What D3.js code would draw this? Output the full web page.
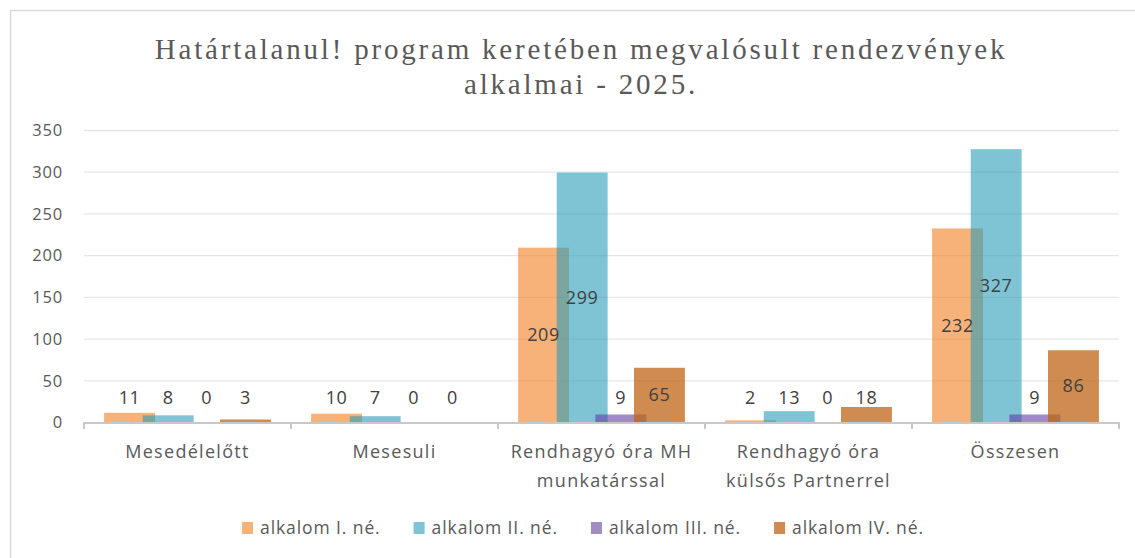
<!DOCTYPE html>
<html>
<head>
<meta charset="utf-8">
<script src="https://cdn.jsdelivr.net/npm/d3@7"></script>
<style>
  html, body { margin: 0; padding: 0; background: #fff; }
  svg { display: block; }
</style>
</head>
<body>
<svg id="chart" width="1135" height="558"></svg>
<script>
// ---- data ----
const titleLines = ["Határtalanul! program keretében megvalósult rendezvények", "alkalmai - 2025."];
const categories = [
  ["Mesedélelőtt"],
  ["Mesesuli"],
  ["Rendhagyó óra MH", "munkatárssal"],
  ["Rendhagyó óra", "külsős Partnerrel"],
  ["Összesen"]
];
const seriesNames = ["alkalom I. né.", "alkalom II. né.", "alkalom III. né.", "alkalom IV. né."];
const seriesI   = [11, 10, 209, 2, 232];
const seriesII  = [8, 7, 299, 13, 327];
const seriesIII = [0, 0, 9, 0, 9];
const seriesIV  = [3, 0, 65, 18, 86];
const yTicks = [0, 50, 100, 150, 200, 250, 300, 350];

const seriesValues = [seriesI, seriesII, seriesIII, seriesIV];
const seriesColors = ["rgb(242,127,33)", "rgb(40,157,183)", "rgb(97,63,155)", "rgb(191,100,21)"];
const seriesOpacity = [0.6, 0.6, 0.6, 0.75];
const legendColors = ["rgb(247,178,122)", "rgb(126,196,212)", "rgb(160,140,195)", "rgb(207,139,80)"];

const svg = d3.select("#chart");
const font = "'Open Sans', sans-serif";

// outer border
svg.append("rect").attr("x", 10.5).attr("y", 10.5).attr("width", 1200).attr("height", 600)
  .attr("fill", "none").attr("stroke", "#d9d9d9").attr("stroke-width", 1.5);

// title
const title = svg.append("text").attr("x", 581).attr("y", 60).attr("text-anchor", "middle")
  .attr("font-family", "'Liberation Serif', serif").attr("font-size", 29).attr("fill", "#595959")
  .attr("letter-spacing", 2.8);
titleLines.forEach((t, i) => {
  title.append("tspan").attr("x", 581).attr("y", 59 + i * 35).text(t);
});

// scales
const plotLeft = 84, plotRight = 1119, plotTop = 130, plotBottom = 422;
const x = d3.scaleBand().domain(d3.range(categories.length)).range([plotLeft, plotRight]).paddingInner(0).paddingOuter(0);
const y = d3.scaleLinear().domain([0, 350]).range([plotBottom, plotTop]);
const bw = x.bandwidth();
const barW = bw * 0.246;
const xs = d3.scalePoint().domain(d3.range(seriesNames.length)).range([bw * 0.097, bw * 0.903 - barW]);

// gridlines
svg.append("g").selectAll("line").data(yTicks.filter(t => t > 0)).join("line")
  .attr("x1", plotLeft).attr("x2", plotRight)
  .attr("y1", d => y(d) + 0.5).attr("y2", d => y(d) + 0.5)
  .attr("stroke", "#e6e6e6").attr("stroke-width", 1.3);

// y axis labels
const yAxis = d3.axisLeft(y).tickValues(yTicks).tickSize(0).tickPadding(0);
const gy = svg.append("g").attr("transform", "translate(63,0)").call(yAxis);
gy.select(".domain").remove();
gy.selectAll("text").attr("font-family", font).attr("font-size", 16.5).attr("fill", "#595959")
  .attr("letter-spacing", 0.8).attr("dy", "0.35em");

// bars
seriesValues.forEach((vals, si) => {
  svg.append("g").selectAll("rect").data(vals).join("rect")
    .attr("x", (d, ci) => x(ci) + xs(si))
    .attr("y", d => y(d))
    .attr("width", barW)
    .attr("height", d => y(0) - y(d))
    .attr("fill", seriesColors[si])
    .attr("fill-opacity", seriesOpacity[si]);
});

// x axis baseline & ticks
const xAxisG = svg.append("g");
xAxisG.append("line").attr("x1", plotLeft).attr("x2", plotRight).attr("y1", y(0) + 1).attr("y2", y(0) + 1)
  .attr("stroke", "#c8c8c8").attr("stroke-width", 2);
xAxisG.selectAll("line.tick").data(d3.range(categories.length + 1)).join("line").attr("class", "tick")
  .attr("x1", d => plotLeft + d * bw).attr("x2", d => plotLeft + d * bw)
  .attr("y1", y(0)).attr("y2", y(0) + 7)
  .attr("stroke", "#c8c8c8").attr("stroke-width", 2);

// category labels
categories.forEach((lines, ci) => {
  const t = svg.append("text").attr("text-anchor", "middle")
    .attr("font-family", font).attr("font-size", 18).attr("fill", "#595959").attr("letter-spacing", 1.3);
  lines.forEach((ln, li) => {
    t.append("tspan").attr("x", x(ci) + bw / 2).attr("y", 458 + li * 29).text(ln);
  });
});

// data labels
seriesValues.forEach((vals, si) => {
  svg.append("g").selectAll("text").data(vals).join("text")
    .attr("x", (d, ci) => x(ci) + xs(si) + barW / 2)
    .attr("y", d => Math.min((y(d) + y(0)) / 2, y(0) - 24))
    .attr("dy", "0.35em")
    .attr("text-anchor", "middle")
    .attr("font-family", font).attr("font-size", 18).attr("fill", "#404040").attr("letter-spacing", 0.6)
    .text(d => d);
});

// legend
const lg = svg.append("g");
const items = lg.selectAll("g").data(seriesNames).join("g");
items.append("rect").attr("width", 11).attr("height", 12).attr("y", -6)
  .attr("fill", (d, i) => legendColors[i]);
items.append("text").attr("x", 18).attr("dy", "0.35em")
  .attr("font-family", font).attr("font-size", 17.5).attr("fill", "#595959").attr("letter-spacing", 0.9)
  .text(d => d);
let pos = 0;
const gap = 33;
items.each(function () {
  const w = 18 + this.querySelector("text").getComputedTextLength();
  d3.select(this).attr("data-x", pos);
  pos += w + gap;
});
const total = pos - gap;
const startX = 583 - total / 2;
items.attr("transform", function () { return `translate(${startX + (+this.getAttribute("data-x"))},528)`; });
</script>
</body>
</html>
